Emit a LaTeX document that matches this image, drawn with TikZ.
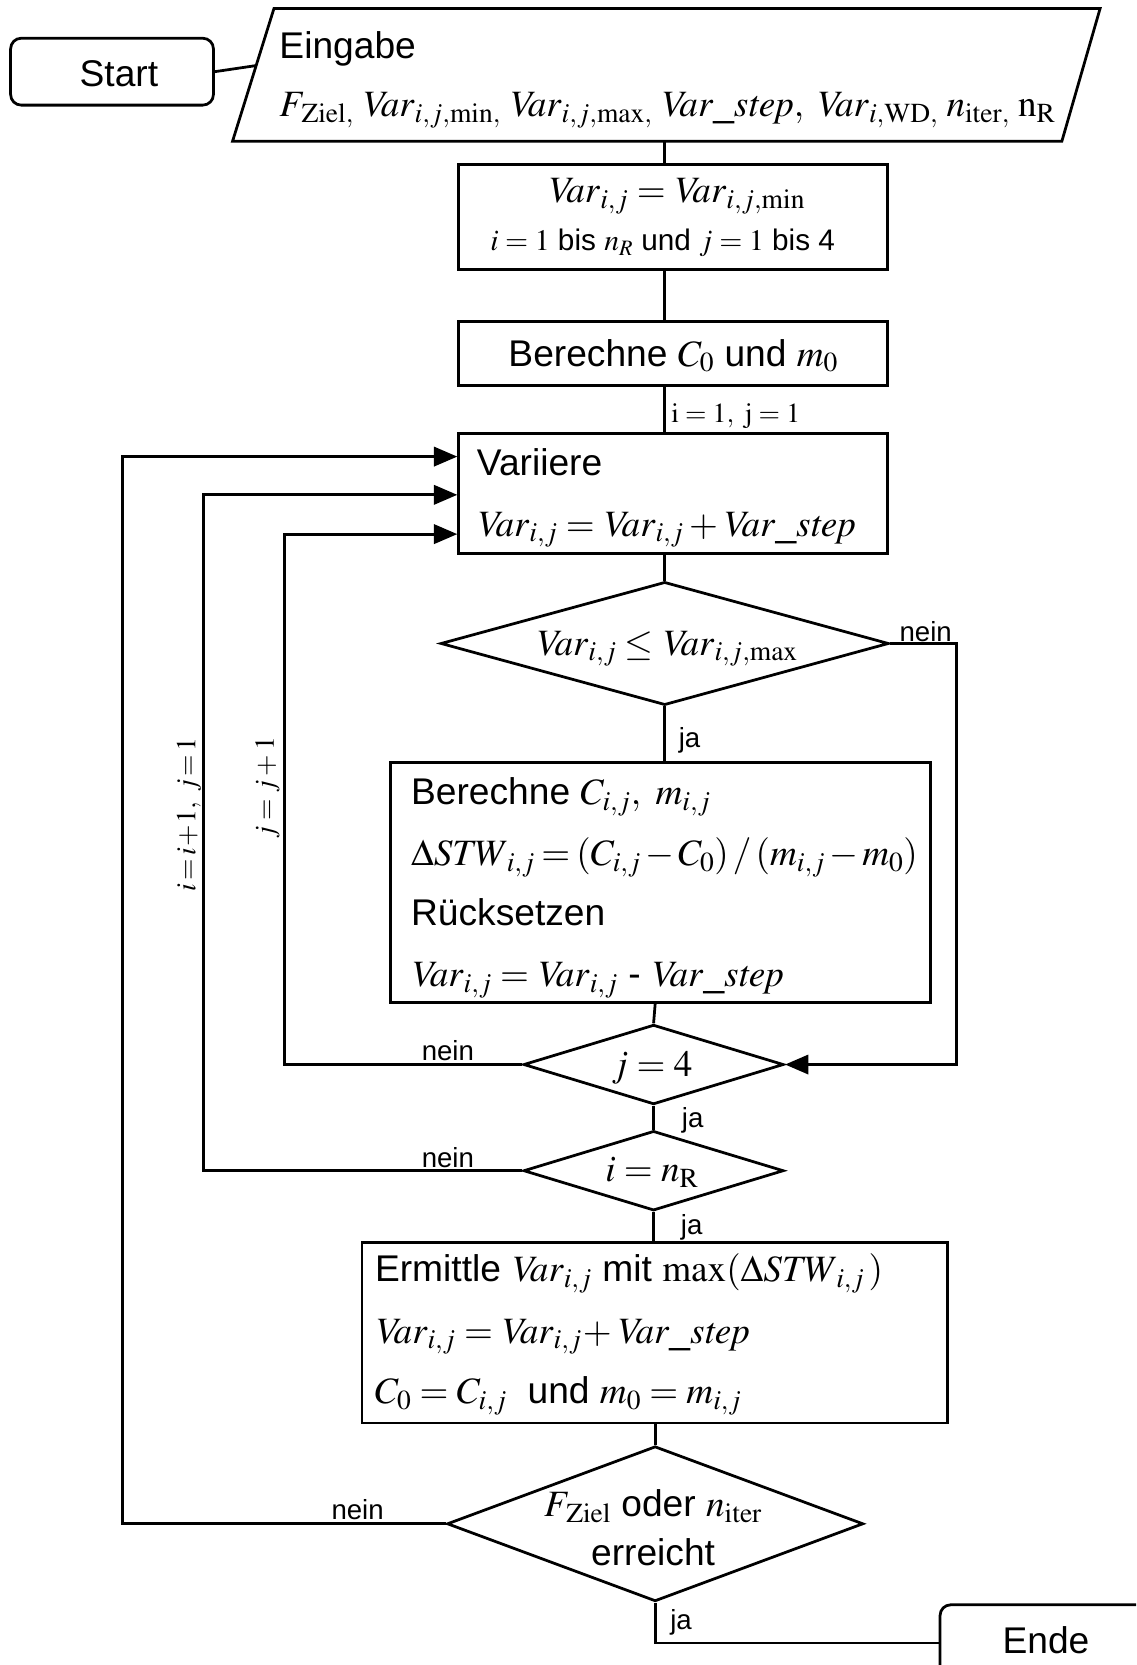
\documentclass[tikz,border=0pt]{standalone}
\usepackage{mathptmx}
\usepackage[no-math]{fontspec}
\setmainfont{Liberation Sans}
\usetikzlibrary{arrows.meta,shapes.geometric,calc}
\newcommand\VV{\mathit{Var}}
\newcommand\VS{\mathit{Var\_step}}
\tikzset{
  ln/.style={line width=2.6pt},
  bx/.style={draw, line width=2.6pt, inner sep=0pt, rectangle},
  dia/.style={draw, line width=2.6pt, diamond, inner sep=0pt},
  arr/.style={line width=3pt, -{Triangle[length=22pt,width=18pt]}},
  txt/.style={inner sep=0pt, font=\fontsize{35}{42}\selectfont},
  mid/.style={inner sep=0pt, font=\fontsize{28}{34}\selectfont},
  lab/.style={inner sep=0pt, font=\fontsize{26}{31}\selectfont},
}
\begin{document}
\begin{tikzpicture}[x=1pt,y=-1pt]
\useasboundingbox (0,0) rectangle (1070,1568);
\clip (0,0) rectangle (1070,1568);
\fill[white] (0,0) rectangle (1070,1568);
% trunk coordinates
\coordinate (tA) at (626,0);
\coordinate (tB) at (617,0);
% Start
\node[bx, rounded corners=10pt, minimum width=191pt, minimum height=63pt] (start) at (105.5,67.5) {};
\node[txt, anchor=base] (startT) at (112,81) {Start};
% Eingabe parallelogram
\coordinate (pTL) at (258,8);
\coordinate (pTR) at (1036,8);
\coordinate (pBR) at (1000,133);
\coordinate (pBL) at (219,133);
\draw[ln] (pTL) -- (pTR) -- (pBR) -- (pBL) -- cycle;
\coordinate (pIn) at ($(pBL)!0.57!(pTL)$);
\coordinate (pOut) at (626,133);
\draw[ln] (start.east) -- (pIn);
\node[txt, anchor=base west] (eing) at (263,55) {Eingabe};
\node[txt, anchor=base west] (eingV) at (263,110) {$F_{\,\mathrm{Ziel},}\;\VV_{i,j,\mathrm{min},}\;\VV_{i,j,\mathrm{max},}\;\VS,\;\VV_{i,\mathrm{WD},}\;n_{\mathrm{iter},}\;\mathrm{n}_{\mathrm{R}}$};
% Box 1
\node[bx, minimum width=404pt, minimum height=99pt] (b1) at (634,204.5) {};
\node[txt, anchor=base] (b1a) at (637,191) {$\VV_{i,j} = \VV_{i,j,\mathrm{min}}$};
\node[mid, anchor=base] (b1b) at (624,236) {$i = 1$ bis $n_R$ und $j = 1$ bis 4};
\draw[ln] (pOut) -- (b1.north -| tA);
% Box 2
\node[bx, minimum width=404pt, minimum height=60pt] (b2) at (634,333) {};
\node[txt, anchor=base] (b2a) at (634,345) {Berechne $C_0$ und $m_0$};
\draw[ln] (b1.south -| tA) -- (b2.north -| tA);
% Box 3
\node[bx, minimum width=404pt, minimum height=113pt] (b3) at (634,464.5) {};
\node[txt, anchor=base west] (b3a) at (449,448) {Variiere};
\node[txt, anchor=base west] (b3b) at (449,505) {$\VV_{i,j} = \VV_{i,j} + \VS$};
\draw[ln] (b2.south -| tA) -- (b3.north -| tA);
\node[lab, anchor=base west] (l0) at (632,398) {$\mathrm{i} = 1,\ \mathrm{j} = 1$};
% Diamond 1
\node[dia, minimum width=422pt, minimum height=116pt] (d1) at (626,606) {};
\node[txt, anchor=base] (d1a) at (628,617) {$\VV_{i,j} \le \VV_{i,j,\mathrm{max}}$};
\draw[ln] (b3.south -| tA) -- (d1.north);
% Box 4
\node[bx, minimum width=508pt, minimum height=226pt] (b4) at (622,831) {};
\node[txt, anchor=base west] (b4a) at (387,758) {Berechne $C_{i,j},\ m_{i,j}$};
\node[txt, anchor=base west] (b4b) at (387,815) {$\thickmuskip=3mu\medmuskip=2mu \Delta \mathit{STW}_{i,j} = (C_{i,j} - C_0)\,/\,(m_{i,j} - m_0)$};
\node[txt, anchor=base west] (b4c) at (387,872) {Rücksetzen};
\node[txt, anchor=base west] (b4d) at (387,929) {$\VV_{i,j} = \VV_{i,j}$ - $\VS$};
\draw[ln] (d1.south) -- (b4.north -| d1.south);
\node[lab, anchor=base west] (l1) at (639,704) {ja};
% Diamond 2 and 3
\node[dia, minimum width=245pt, minimum height=75pt] (d2) at (615.5,1002.5) {};
\node[txt, anchor=base] (d2a) at (614,1014) {$j = 4$};
\node[dia, minimum width=245pt, minimum height=75pt] (d3) at (615.5,1102.5) {};
\node[txt, anchor=base] (d3a) at (614,1113) {$i = n_{\mathrm{R}}$};
\draw[ln] (b4.south -| tB) -- (d2.north);
\draw[ln] (d2.south) -- (d3.north);
\node[lab, anchor=base west] (l2) at (642,1062) {ja};
% Box 5
\node[bx, minimum width=551pt, minimum height=170pt] (b5) at (616.5,1255) {};
\node[txt, anchor=base west] (b5a) at (353,1207) {Ermittle $\VV_{i,j}$ mit $\mathrm{max}(\Delta\mathit{STW}_{i,j}\,)$};
\node[txt, anchor=base west] (b5b) at (353,1265) {$\VV_{i,j} = \VV_{i,j}\!+ \VS$};
\node[txt, anchor=base west] (b5c) at (353,1322) {$C_0 = C_{i,j}$\ \ und $m_0 = m_{i,j}$};
\draw[ln] (d3.south) -- (b5.north -| d3.south);
\node[lab, anchor=base west] (l3) at (641,1163) {ja};
% Diamond 4
\node[dia, minimum width=392pt, minimum height=146pt] (d4) at (617,1435) {};
\node[txt, anchor=base] (d4a) at (615,1428) {$F_{\,\mathrm{Ziel}}$ oder $n_{\mathrm{iter}}$};
\node[txt, anchor=base] (d4b) at (615,1474) {erreicht};
\draw[ln] (b5.south -| tB) -- (d4.north);
% Ende
\node[bx, rounded corners=10pt, minimum width=250pt, minimum height=72pt, anchor=north west] (ende) at (884,1510) {};
\node[txt, anchor=base] (endeT) at (985,1557) {Ende};
\draw[ln] (d4.south) -- (d4.south |- ende.west) -- (ende.west);
\node[lab, anchor=base west] (l4) at (631,1535) {ja};
% loop-backs
\coordinate (k1) at (115,430);
\coordinate (k2) at (192,466);
\coordinate (k3) at (268,503);
\coordinate (k4) at (901,606);
\draw[arr] (d4.west) -| (k1) -- (k1 -| b3.west);
\draw[arr] (d3.west) -| (k2) -- (k2 -| b3.west);
\draw[arr] (d2.west) -| (k3) -- (k3 -| b3.west);
\draw[arr] (d1.east) -- (k4) |- (d2.east);
\node[lab, anchor=base west] (n1) at (847,604) {nein};
\node[lab, anchor=base west] (n2) at (397,999) {nein};
\node[lab, anchor=base west] (n3) at (397,1099) {nein};
\node[lab, anchor=base west] (n4) at (312,1431) {nein};
\node[lab, rotate=90] (r1) at (178,767) {$\thickmuskip=2mu\medmuskip=1mu i = i+1,\ j = 1$};
\node[lab, rotate=90] (r2) at (252,742) {$j = j+1$};
\end{tikzpicture}
\end{document}
